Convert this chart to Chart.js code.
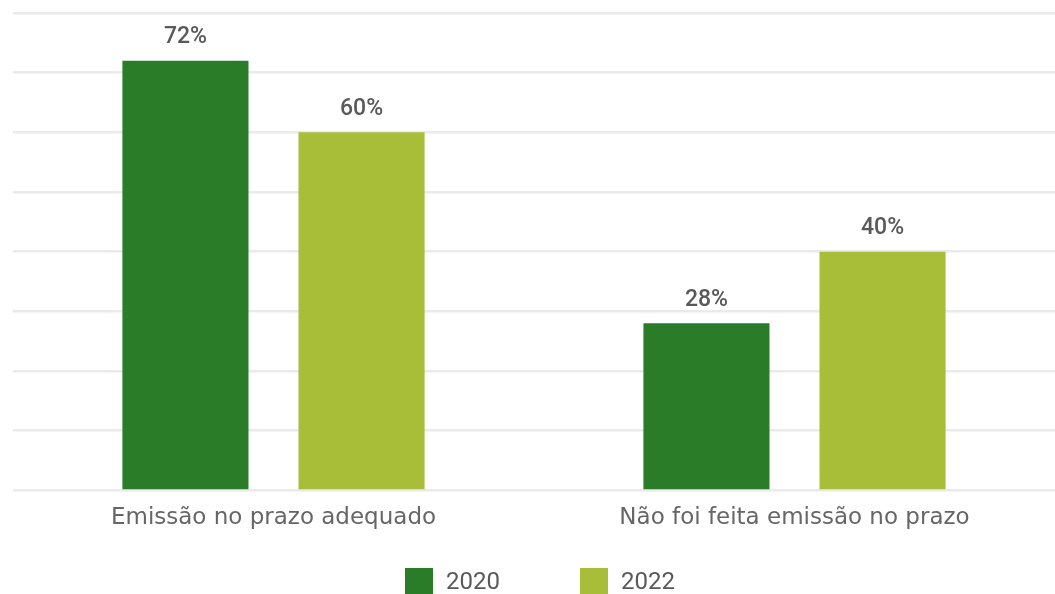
<!DOCTYPE html>
<html lang="pt">
<head>
<meta charset="utf-8">
<title>Emissão no prazo</title>
<script src="https://cdn.jsdelivr.net/npm/chart.js@4.4.1/dist/chart.umd.min.js"></script>
<style>
  html, body { margin: 0; padding: 0; background: #fff; }
  .wrap { position: relative; width: 1055px; height: 594px; }
  .legend {
    position: absolute; left: 405px; top: 567px;
    display: flex; align-items: center;
    font-family: Roboto, sans-serif; font-size: 24px; color: #595959;
  }
  .legend .item { display: flex; align-items: center; margin-right: 80px; }
  .legend .sw { width: 28px; height: 27px; margin-right: 13px; }
</style>
</head>
<body>
<div class="wrap">
  <canvas id="emChart" width="1055" height="594"></canvas>
  <div class="legend" id="legend"></div>
</div>
<script>
/* ── DATA ── */
const categories = ['Emissão no prazo adequado', 'Não foi feita emissão no prazo'];
const years      = ['2020', '2022'];
const vals2020   = [72, 28];
const vals2022   = [60, 40];
const colors     = ['#2A7C29', '#A8BD38'];

/* ── value labels above each bar ── */
const barLabels = {
  id: 'barLabels',
  afterDatasetsDraw(chart) {
    const { ctx } = chart;
    ctx.save();
    ctx.font = "500 23px Roboto";
    ctx.fillStyle = '#595959';
    ctx.textAlign = 'center';
    ctx.textBaseline = 'bottom';
    chart.data.datasets.forEach((ds, i) => {
      chart.getDatasetMeta(i).data.forEach((bar, j) => {
        ctx.fillText(ds.data[j] + '%', bar.x, bar.y - 12);
      });
    });
    ctx.restore();
  }
};

new Chart(document.getElementById('emChart').getContext('2d'), {
  type: 'bar',
  data: {
    labels: categories,
    datasets: [
      { label: years[0], data: vals2020, backgroundColor: colors[0] },
      { label: years[1], data: vals2022, backgroundColor: colors[1] },
    ],
  },
  options: {
    responsive: false,
    animation: false,
    categoryPercentage: 0.676,
    barPercentage: 0.716,
    layout: { padding: { left: 13, top: 13, right: 0, bottom: 56 } },
    plugins: {
      legend: { display: false },
      tooltip: { enabled: false },
    },
    scales: {
      x: {
        grid: { display: false },
        border: { display: false },
        ticks: { color: '#666', font: { family: "'DejaVu Sans'", size: 23 }, padding: 6 },
      },
      y: {
        min: 0, max: 80,
        ticks: { stepSize: 10, display: false },
        border: { display: false },
        grid: { color: '#eaeaea', lineWidth: 2.5, drawTicks: false },
      },
    },
  },
  plugins: [barLabels],
});

// legend
document.getElementById('legend').innerHTML = years.map((y, i) =>
  `<div class="item"><span class="sw" style="background:${colors[i]}"></span>${y}</div>`
).join('');
</script>
</body>
</html>
